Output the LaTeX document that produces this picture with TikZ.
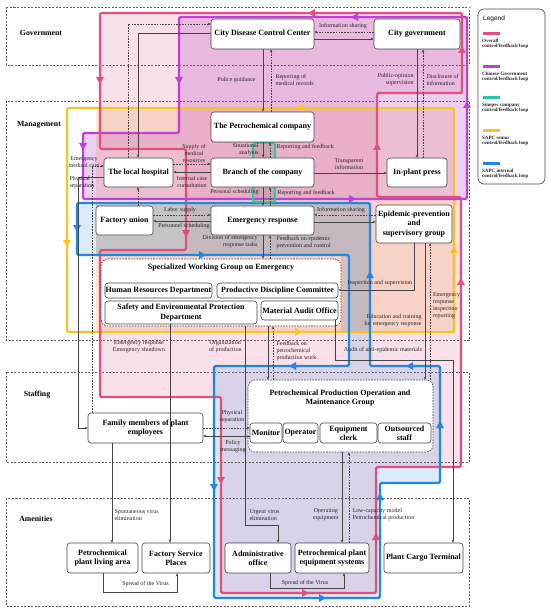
\documentclass[tikz,border=0pt]{standalone}
\usepackage{fontspec}
\setmainfont{Liberation Serif}
\newfontfamily\legsans{Liberation Sans}
\usetikzlibrary{arrows.meta}
\definecolor{lpink}{HTML}{E0507A}
\definecolor{lpurp}{HTML}{C23ED8}
\definecolor{lteal}{HTML}{2EC4A6}
\definecolor{lyell}{HTML}{F7C520}
\definecolor{lblue}{HTML}{1E88E8}
\definecolor{fpink}{HTML}{F3A9BE}
\definecolor{fpurp}{HTML}{C860D0}
\definecolor{fpeach}{HTML}{F5B27A}
\definecolor{fblue}{HTML}{8BB8EC}
\definecolor{lnk}{HTML}{444444}
\newcommand\tri[4]{\fill[#1,shift={(#2,#3)},rotate=#4] (4pt,0pt) -- (-3pt,4pt) -- (-3pt,-4pt) -- cycle;}
\tikzset{
 box/.style={draw=lnk, line width=0.6pt, rounded corners=3pt, fill=white, inner sep=0.5pt, align=center, font=\fontsize{8}{9.2}\selectfont\bfseries},
 cont/.style={draw=lnk, line width=0.6pt, dash pattern=on 1.6pt off 1.2pt, rounded corners=7pt, fill=white},
 con/.style={draw=lnk, line width=0.5pt, -{Stealth[length=3pt,width=2.6pt]}},
 dcon/.style={con, dash pattern=on 1.6pt off 1.2pt},
 lab/.style={font=\fontsize{6}{7}\selectfont, inner sep=0.3pt, align=center, text=black!85},
 layer/.style={draw=lnk!85, dash pattern=on 2pt off 1.5pt, line width=0.7pt},
 layname/.style={font=\fontsize{7.8}{9}\selectfont\bfseries, inner sep=0pt},
 lp/.style={line width=2.4pt, line join=round, rounded corners=1.5pt},
 legtxt/.style={anchor=north west, align=left, inner sep=0pt, font=\fontsize{5}{5.6}\selectfont\bfseries, text=black!85},
}
\begin{document}
\begin{tikzpicture}[x=1pt,y=-1pt]
\useasboundingbox (0,0) rectangle (550,612);
\fill[white] (0,0) rectangle (550,612);
% ---- shaded loop areas
\fill[fpink, opacity=0.35] (100,13) -- (462,13) -- (462,93) -- (377,93) -- (377,197) -- (461,197) -- (461,467) -- (376,467) -- (376,593) -- (221,593) -- (221,397) -- (100,397) -- (100,250) -- (186,250) -- (186,149) -- (100,149) -- cycle;
\fill[fpeach, opacity=0.3] (96,108) rectangle (454,332);
\fill[fpurp, opacity=0.3] (179,17) -- (467,17) -- (467,199) -- (83,199) -- (83,133) -- (179,133) -- cycle;
\fill[fblue, opacity=0.3] (77,203) -- (370,203) -- (370,366) -- (440,366) -- (440,483) -- (380,483) -- (380,598) -- (214,598) -- (214,366) -- (349,366) -- (349,255) -- (77,255) -- cycle;
\fill[gray, opacity=0.22] (96,203) rectangle (370,255);
\fill[gray, opacity=0.22] (341,255) rectangle (370,332);
\fill[gray, opacity=0.25] (253,143) rectangle (275,202);
% ---- layers
\draw[layer] (6,7) rectangle (469,65);
\draw[layer] (6,101) rectangle (469,340);
\draw[layer] (6,372) rectangle (469,462);
\draw[layer] (6,498) rectangle (469,606);
\node[layname] (lgov) at (41,33) {Government};
\node[layname] (lman) at (39,125) {Management};
\node[layname] (lsta) at (37,395) {Staffing};
\node[layname] (lame) at (36,519) {Amenities};
% ---- loops
\draw[lp, lyell, line width=2.2pt] (67,108) rectangle (454,332);
\draw[lp, lpurp] (179,17) -- (179,133) -- (83,133) -- (83,199) -- (467,199) -- (467,17) -- cycle;
\draw[lp, lpink] (462,13) -- (100,13) -- (100,149) -- (186,149) -- (186,250) -- (100,250) -- (100,397) -- (221,397) -- (221,593) -- (376,593) -- (376,467) -- (461,467) -- (461,197) -- (377,197) -- (377,93) -- (462,93) -- cycle;
\draw[lp, lblue] (77,203) -- (77,255) -- (349,255) -- (349,366) -- (214,366) -- (214,598) -- (380,598) -- (380,483) -- (440,483) -- (440,366) -- (370,366) -- (370,203) -- cycle;
\draw[lp, lteal, line width=2pt] (253,143) rectangle (275,202);
% loop arrowheads
\tri{lpink}{312}{13}{180} \tri{lpink}{100}{80}{270} \tri{lpink}{186}{233}{270}
\tri{lpink}{377}{147}{90} \tri{lpink}{221}{480}{270} \tri{lpink}{305}{593}{0}
\tri{lpink}{376}{537}{90} \tri{lpink}{461}{282}{90} \tri{lpink}{462}{50}{90}
\tri{lpurp}{355}{17}{180} \tri{lpurp}{179}{80}{270} \tri{lpurp}{83}{146}{270}
\tri{lpurp}{352}{199}{0} \tri{lpurp}{467}{105}{90}
\tri{lyell}{300}{108}{180} \tri{lyell}{67}{243}{270} \tri{lyell}{298}{332}{0} \tri{lyell}{454}{250}{90}
\tri{lblue}{77}{228}{270} \tri{lblue}{202}{255}{0} \tri{lblue}{370}{275}{90}
\tri{lblue}{293}{366}{180} \tri{lblue}{410}{366}{180} \tri{lblue}{214}{487}{270}
\tri{lblue}{322}{598}{0} \tri{lblue}{380}{497}{90} \tri{lblue}{440}{425}{90}
% ---- containers
\node[cont, minimum width=240pt, minimum height=67pt] (swg) at (221,292.5) {};
\node[font=\fontsize{8}{9.2}\selectfont\bfseries, inner sep=0pt] (swgt) at (221,268) {Specialized Working Group on Emergency};
\node[cont, minimum width=185pt, minimum height=72pt] (ppo) at (340.5,416) {};
\node[font=\fontsize{8}{9.2}\selectfont\bfseries, inner sep=0pt, align=center] (ppot) at (340,398) {Petrochemical Production Operation and\\Maintenance Group};
% ---- nodes
\node[box, minimum width=103pt, minimum height=30pt] (cdc) at (262.5,34) {City Disease Control Center};
\node[box, minimum width=86pt, minimum height=30pt] (cgov) at (417,34) {City government};
\node[box, minimum width=103pt, minimum height=30pt] (pet) at (262.5,127) {The Petrochemical company};
\node[box, minimum width=69pt, minimum height=29pt] (hosp) at (138.5,172.5) {The local hospital};
\node[box, minimum width=103pt, minimum height=29pt] (bra) at (262.5,172.5) {Branch of the company};
\node[box, minimum width=60pt, minimum height=29pt] (press) at (417,172.5) {In-plant press};
\node[box, minimum width=57pt, minimum height=29pt] (fu) at (124.5,220.5) {Factory union};
\node[box, minimum width=103pt, minimum height=29pt] (er) at (262.5,220.5) {Emergency response};
\node[box, minimum width=76pt, minimum height=38pt] (eps) at (414,224) {Epidemic-prevention\\and\\supervisory group};
\node[box, minimum width=107pt, minimum height=15pt] (hr) at (158.5,290.5) {Human Resources Department};
\node[box, minimum width=121pt, minimum height=15pt] (pdc) at (277.5,290.5) {Productive Discipline Committee};
\node[box, minimum width=152pt, minimum height=23pt] (saf) at (181,312.5) {Safety and Environmental Protection\\Department};
\node[box, minimum width=77pt, minimum height=19pt] (mao) at (299.5,310.5) {Material Audit Office};
\node[box, minimum width=32pt, minimum height=20pt] (mon) at (266,433) {Monitor};
\node[box, minimum width=35pt, minimum height=20pt] (ope) at (300.5,433) {Operator};
\node[box, minimum width=57pt, minimum height=20pt] (eqc) at (348.5,433) {Equipment\\clerk};
\node[box, minimum width=53pt, minimum height=20pt] (out) at (404.5,433) {Outsourced\\staff};
\node[box, minimum width=115pt, minimum height=30pt] (fam) at (145.5,428) {Family members of plant\\employees};
\node[box, minimum width=71pt, minimum height=30pt] (liv) at (102.5,558) {Petrochemical\\plant living area};
\node[box, minimum width=68pt, minimum height=30pt] (fsp) at (176,558) {Factory Service\\Places};
\node[box, minimum width=66pt, minimum height=30pt] (adm) at (258,558) {Administrative\\office};
\node[box, minimum width=74pt, minimum height=30pt] (eqs) at (332,558) {Petrochemical plant\\equipment systems};
\node[box, minimum width=79pt, minimum height=30pt] (term) at (423.5,558) {Plant Cargo Terminal};
% ---- connectors
\draw[dcon] (128,0 |- hosp.north) -- (128,24) -- (cdc.west |- 0,24);
\draw[con] (cdc.west |- 0,33) -- (138,33) -- (138,0 |- hosp.north);
\draw[dcon] (cgov.west |- 0,32) -- (cdc.east |- 0,32);
\draw[con] (cdc.east |- 0,39) -- (cgov.west |- 0,39);
\draw[con] (263,0 |- cdc.south) -- (263,0 |- pet.north);
\draw[dcon] (271,0 |- pet.north) -- (271,0 |- cdc.south);
\draw[con] (417,0 |- cgov.south) -- (417,0 |- press.north);
\draw[dcon] (423,0 |- press.north) -- (423,0 |- cgov.south);
\draw[con] (263,0 |- pet.south) -- (263,0 |- bra.north);
\draw[dcon] (270,0 |- bra.north) -- (270,0 |- pet.south);
\draw[dcon] (hosp.east |- 0,164) -- (bra.west |- 0,164);
\draw[con] (bra.west |- 0,172) -- (hosp.east |- 0,172);
\draw[con] (bra.east |- 0,173) -- (press.west |- 0,173);
\draw[con] (263,0 |- bra.south) -- (263,0 |- er.north);
\draw[dcon] (270,0 |- er.north) -- (270,0 |- bra.south);
\draw[dcon] (138,0 |- fu.north) -- (138,0 |- hosp.south);
\draw[dcon] (fu.east |- 0,215) -- (er.west |- 0,215);
\draw[con] (er.west |- 0,221) -- (fu.east |- 0,221);
\draw[dcon] (eps.west |- 0,215) -- (er.east |- 0,215);
\draw[con] (er.east |- 0,222) -- (eps.west |- 0,222);
\draw[con] (263,0 |- er.south) -- (263,0 |- swg.north);
\draw[dcon] (270,0 |- swg.north) -- (270,0 |- er.south);
\draw[con] (414,0 |- eps.south) -- (414,290) -- (pdc.east |- 0,290);
\draw[con] (425,0 |- eps.south) -- (425,0 |- ppo.north);
\draw[dcon] (430,0 |- ppo.north) -- (430,0 |- eps.south);
\draw[con] (335,0 |- mao.south) -- (335,360) -- (453,360) -- (453,0 |- term.north);
\draw[con] (170,0 |- saf.south) -- (170,0 |- fsp.north);
\draw[con] (245,0 |- swg.south) -- (245,525) -- (278,525) -- (278,0 |- adm.north);
\draw[con] (268,0 |- swg.south) -- (268,0 |- ppo.north);
\draw[dcon] (273,0 |- ppo.north) -- (273,0 |- swg.south);
\draw[con] (112,0 |- fam.south) -- (112,0 |- liv.north);
\draw[dcon] (fam.east |- 0,428) -- (mon.west |- 0,428);
\draw[con] (mon.west |- 0,436) -- (fam.east |- 0,436);
\draw[con] (hosp.west |- 0,177) -- (78,177) -- (78,428) -- (fam.west |- 0,428);
\draw[dcon] (92,0 |- fam.north) -- (92,166) -- (hosp.west |- 0,166);
\draw[con] (342,0 |- ppo.south) -- (342,0 |- eqs.north);
\draw[dcon] (349,0 |- eqs.north) -- (349,0 |- ppo.south);
\draw[con] (103,0 |- liv.south) -- (103,592) -- (177,592) -- (177,0 |- fsp.south);
\draw[con] (270,0 |- adm.south) -- (270,588) -- (344,588) -- (344,0 |- eqs.south);
% ---- labels
\node[lab] (t1) at (343,26) {Information sharing};
\node[lab] (t2) at (236.5,80) {Police guidance};
\node[lab, anchor=west, align=left] (t3) at (275,80) {Reporting of\\medical records};
\node[lab, anchor=east, align=right] (t4) at (414,80) {Public-opinion\\supervision};
\node[lab, anchor=west, align=left] (t5) at (426,80) {Disclosure of\\information};
\node[lab, anchor=east, align=right] (t6) at (259,150) {Situational\\analysis};
\node[lab, anchor=west] (t7) at (276,147) {Reporting and feedback};
\node[lab] (t8) at (194,153.5) {Supply of\\medical\\resources};
\node[lab] (t9) at (192,182) {Internal case\\consultation};
\node[lab] (t10) at (349,164.5) {Transparent\\information};
\node[lab, anchor=east] (t11) at (259,192) {Personal scheduling};
\node[lab, anchor=west] (t12) at (277,193) {Reporting and feedback};
\node[lab] (t13) at (180,210) {Labor supply};
\node[lab] (t14) at (184,226) {Personnel scheduling};
\node[lab] (t15) at (341,210.5) {Information sharing};
\node[lab, anchor=east, align=right] (t16) at (258,242) {Division of emergency\\response tasks};
\node[lab, anchor=west, align=left] (t17) at (276,243) {Feedback on epidemic\\prevention and control};
\node[lab] (t18) at (380,283) {Inspection and supervision};
\node[lab, anchor=east, align=right] (t19) at (422,321) {Education and training\\for emergency response};
\node[lab, anchor=north west, align=left] (t20) at (432.5,292.5) {Emergency\\response\\inspection\\reporting};
\node[lab] (t21) at (383,350) {Audit of anti-epidemic materials};
\node[lab] (t22) at (139,347) {Emergency response\\Emergency shutdown};
\node[lab, anchor=east] (t23) at (242,347) {Organization\\of production};
\node[lab, anchor=west, align=left] (t24) at (276,351) {Feedback on\\petrochemical\\production work};
\node[lab] (t25) at (232,417) {Physical\\separation};
\node[lab] (t26) at (233,447) {Policy\\messaging};
\node[lab, anchor=west, align=left] (t27) at (114,515) {Spontaneous virus\\elimination};
\node[lab, anchor=west, align=left] (t28) at (249,515) {Urgent virus\\elimination};
\node[lab, anchor=east] (t29) at (339,515) {Operating\\equipment};
\node[lab, anchor=west, align=left] (t30) at (352,515) {Low-capacity model\\Petrochemical production};
\node[lab] (t31) at (145.5,584) {Spread of the Virus};
\node[lab] (t32) at (305,583) {Spread of the Virus};
\node[lab] (t33) at (84,162) {Emergency\\medical care};
\node[lab, anchor=west, align=left] (t34) at (69,183) {Physical\\separation};
% ---- legend
\draw[draw=lnk, line width=0.6pt, rounded corners=6pt, fill=white] (478,9) rectangle (545,184);
\node[anchor=west, inner sep=0pt, font=\legsans\fontsize{6.5}{7}\selectfont] (leg) at (483,19) {Legend};
\draw[lpink, line width=3pt] (483,34) -- (500,34);
\node[legtxt] (lg1) at (482,38.5) {Overall\\control/feedback loop};
\draw[lpurp, line width=3pt] (483,67) -- (500,67);
\node[legtxt] (lg2) at (482,71.5) {Chinese Government\\control/feedback loop};
\draw[lteal, line width=3pt] (483,98) -- (500,98);
\node[legtxt] (lg3) at (482,102.5) {Sinopec company\\control/feedback loop};
\draw[lyell, line width=3pt] (483,131) -- (500,131);
\node[legtxt] (lg4) at (482,135.5) {SAPC senior\\control/feedback loop};
\draw[lblue, line width=3pt] (483,164) -- (500,164);
\node[legtxt] (lg5) at (482,168.5) {SAPC internal\\control/feedback loop};
\end{tikzpicture}
\end{document}
